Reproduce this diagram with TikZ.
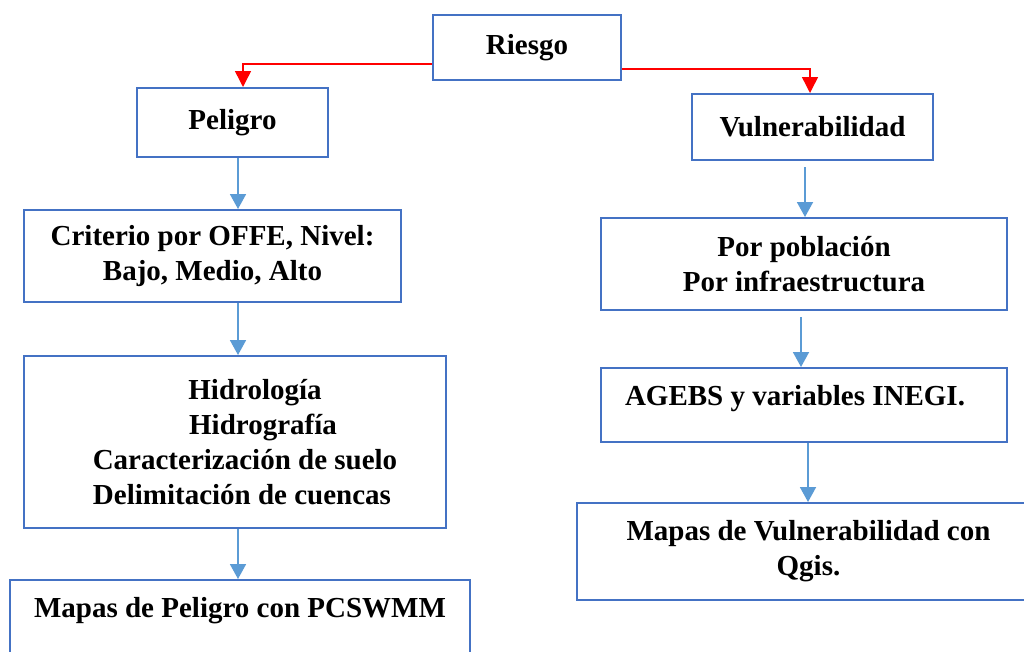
\documentclass[tikz,border=0pt]{standalone}
\usepackage{fontspec}
\setmainfont{Liberation Serif}
\usetikzlibrary{arrows.meta}
\definecolor{cajaazul}{HTML}{4472C4}
\definecolor{flechaazul}{HTML}{5B9BD5}
\begin{document}
\begin{tikzpicture}[x=1pt,y=-1pt,
  caja/.style={draw=cajaazul,line width=2pt,inner sep=0pt,align=center,
    font=\bfseries\fontsize{29}{35}\selectfont},
  flecha/.style={draw=flechaazul,line width=1.8pt,-{Triangle[width=16pt,length=15pt]}},
  flecharoja/.style={draw=red,line width=1.5pt,-{Triangle[width=16pt,length=16pt]}}]
  \useasboundingbox[fill=white] (0,0) rectangle (1024,651);

  \node[caja,minimum width=188pt,minimum height=65pt] (riesgo) at (527,47.5) {Riesgo};
  \node[caja,minimum width=191pt,minimum height=69pt] (peligro) at (232.5,122.5) {Peligro};
  \node[caja,minimum width=241pt,minimum height=66pt] (vulnerabilidad) at (812.5,127) {Vulnerabilidad};

  \node[caja,minimum width=377pt,minimum height=92pt] (criterio) at (212.5,256)
    {Criterio por OFFE, Nivel:\\Bajo, Medio, Alto};
  \node[caja,minimum width=422pt,minimum height=172pt] (hidro) at (235,442)
    {\hspace*{40pt}Hidrología\\\hspace*{56pt}Hidrografía\\
     \hspace*{20pt}Caracterización de suelo\\\hspace*{14pt}Delimitación de cuencas};
  \node[caja,minimum width=460pt,minimum height=110pt,text height=20pt,text depth=56pt] (mapaspel) at (240,635)
    {Mapas de Peligro con PCSWMM};

  \node[caja,minimum width=406pt,minimum height=92pt] (poblacion) at (804,264)
    {Por población\\Por infraestructura};
  \node[caja,minimum width=406pt,minimum height=74pt,text height=20pt,text depth=20pt] (agebs) at (804,405)
    {AGEBS y variables INEGI.\hspace*{18pt}};
  \node[caja,minimum width=463pt,minimum height=97pt] (mapasvul) at (808.5,551.5)
    {Mapas de Vulnerabilidad con\\Qgis.};

  \draw[flecharoja] (riesgo.west |- 0,64) -| (peligro.north -| 243,0);
  \draw[flecharoja] (riesgo.east |- 0,69) -| (vulnerabilidad.north -| 810,0);

  \draw[flecha] (peligro.south -| 238,0) -- (criterio.north -| 238,0);
  \draw[flecha] (criterio.south -| 238,0) -- (hidro.north -| 238,0);
  \draw[flecha] (hidro.south -| 238,0) -- (mapaspel.north -| 238,0);

  \draw[flecha,shorten <=6pt] (vulnerabilidad.south -| 805,0) -- (poblacion.north -| 805,0);
  \draw[flecha,shorten <=6pt] (poblacion.south -| 801,0) -- (agebs.north -| 801,0);
  \draw[flecha] (agebs.south -| 808,0) -- (mapasvul.north -| 808,0);
\end{tikzpicture}
\end{document}
